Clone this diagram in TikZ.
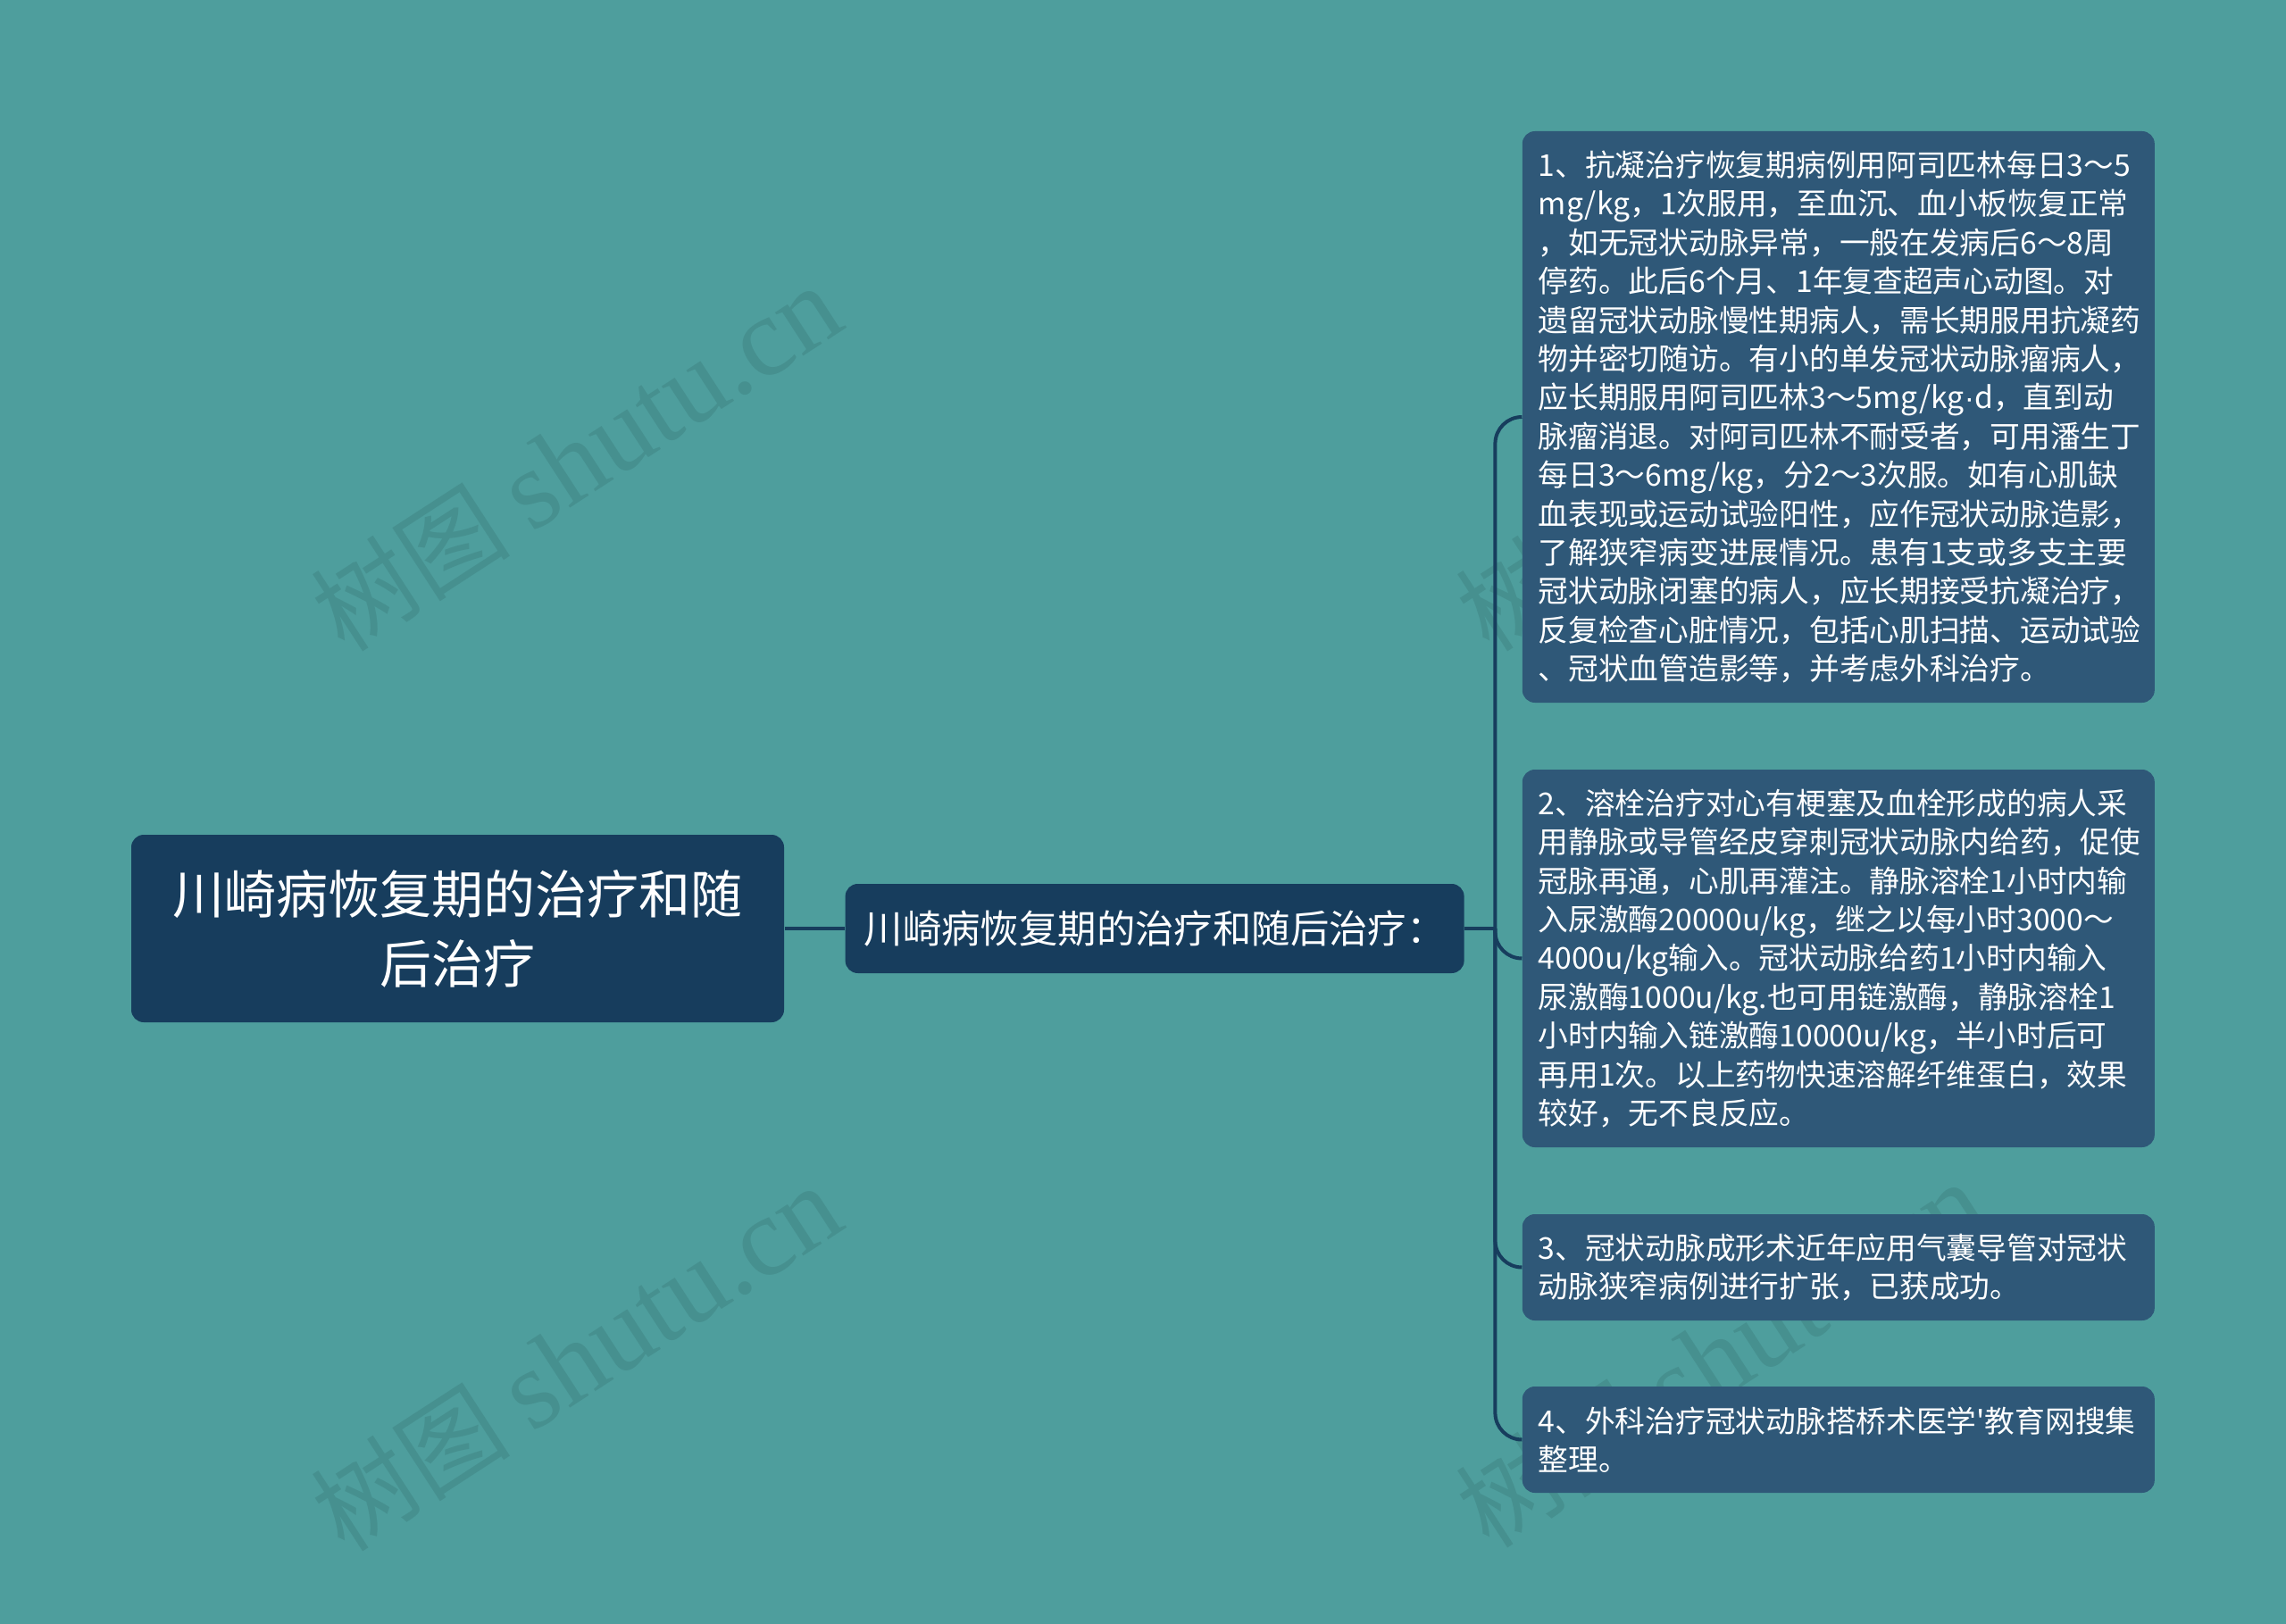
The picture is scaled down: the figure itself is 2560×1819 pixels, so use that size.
\documentclass[tikz,border=0pt]{standalone}
\usepackage{fontspec}
\newfontfamily\cjk{Noto Sans CJK SC}
\newfontfamily\wmserif{Liberation Serif}
\newfontfamily\latsans{Liberation Sans}
\usetikzlibrary{positioning}
\definecolor{bgteal}{HTML}{4E9E9D}
\definecolor{rootblue}{HTML}{173D5D}
\definecolor{leafblue}{HTML}{2F5878}
\definecolor{wmark}{HTML}{46908F}

\begin{document}
\begin{tikzpicture}[x=0.25pt,y=-0.25pt]
\tikzstyle{root}=[rectangle,rounded corners=3.5pt,fill=rootblue,text=white,align=center,minimum width=182.75pt,minimum height=52.5pt,inner sep=0pt,font=\cjk\fontsize{14.5pt}{19.5pt}\selectfont]
\tikzstyle{sub}=[rectangle,rounded corners=3.5pt,fill=rootblue,text=white,minimum width=173.25pt,minimum height=25pt,inner sep=0pt,font=\cjk\fontsize{10.85pt}{12pt}\selectfont]
\tikzstyle{leaf}=[rectangle,rounded corners=3.5pt,fill=leafblue,text=white,anchor=west,align=left,text width=168pt,inner xsep=4.5pt,inner ysep=0pt,font=\cjk\fontsize{8.43pt}{10.85pt}\selectfont]
\tikzstyle{link}=[-,draw=rootblue,line width=1pt,rounded corners=7.5pt]
\tikzstyle{wm}=[text=wmark,rotate=33,inner sep=0pt]

% background and watermarks
\fill[bgteal] (0,0) rectangle (2560,1819);
\useasboundingbox (0,0) rectangle (2560,1819);
\node[wm] (wm1) at (645,514) {\cjk\fontsize{28pt}{28pt}\selectfont 树图 \wmserif\fontsize{31.5pt}{31.5pt}\selectfont shutu.cn};
\node[wm] (wm2) at (645,1522) {\cjk\fontsize{28pt}{28pt}\selectfont 树图 \wmserif\fontsize{31.5pt}{31.5pt}\selectfont shutu.cn};
\node[wm] (wm3) at (1927,514) {\cjk\fontsize{28pt}{28pt}\selectfont 树图 \wmserif\fontsize{31.5pt}{31.5pt}\selectfont shutu.cn};
\node[wm] (wm4) at (1927,1518) {\cjk\fontsize{28pt}{28pt}\selectfont 树图 \wmserif\fontsize{31.5pt}{31.5pt}\selectfont shutu.cn};

\node[root] (r0) at (512.5,1040) {川崎病恢复期的治疗和随\\后治疗};
\node[sub] (m0) [right=16.75pt of r0] {川崎病恢复期的治疗和随后治疗：};
\coordinate[right=8.5pt of m0] (fork);

\node[leaf,minimum height=160pt] (l1) at (1704,467) {1、抗凝治疗恢复期病例用阿司匹林每日3～5\\
mg/kg，1次服用，至血沉、血小板恢复正常\\
，如无冠状动脉异常，一般在发病后6～8周\\
停药。此后6个月、1年复查超声心动图。对\\
遗留冠状动脉慢性期病人，需长期服用抗凝药\\
物并密切随访。有小的单发冠状动脉瘤病人，\\
应长期服用阿司匹林3～5mg/kg{\latsans ·}d，直到动\\
脉瘤消退。对阿司匹林不耐受者，可用潘生丁\\
每日3～6mg/kg，分2～3次服。如有心肌缺\\
血表现或运动试验阳性，应作冠状动脉造影，\\
了解狭窄病变进展情况。患有1支或多支主要\\
冠状动脉闭塞的病人，应长期接受抗凝治疗，\\
反复检查心脏情况，包括心肌扫描、运动试验\\
、冠状血管造影等，并考虑外科治疗。};
\node[leaf,minimum height=105.75pt] (l2) at (1704,1073.5) {2、溶栓治疗对心有梗塞及血栓形成的病人采\\
用静脉或导管经皮穿刺冠状动脉内给药，促使\\
冠脉再通，心肌再灌注。静脉溶栓1小时内输\\
入尿激酶20000u/kg，继之以每小时3000～\\
4000u/kg输入。冠状动脉给药1小时内输入\\
尿激酶1000u/kg.也可用链激酶，静脉溶栓1\\
小时内输入链激酶10000u/kg，半小时后可\\
再用1次。以上药物快速溶解纤维蛋白，效果\\
较好，无不良反应。};
\node[leaf,minimum height=29.75pt] (l3) at (1704,1419.5) {3、冠状动脉成形术近年应用气囊导管对冠状\\
动脉狭窄病例进行扩张，已获成功。};
\node[leaf,minimum height=29.75pt] (l4) at (1704,1612.5) {4、外科治疗冠状动脉搭桥术医学'教育网搜集\\
整理。};

\path (r0) edge [link] (m0)
  (m0) edge [link] (fork);
\draw[link] (fork) |- (l1);
\draw[link] (fork) |- (l2);
\draw[link] (fork) |- (l3);
\draw[link] (fork) |- (l4);
\end{tikzpicture}
\end{document}
